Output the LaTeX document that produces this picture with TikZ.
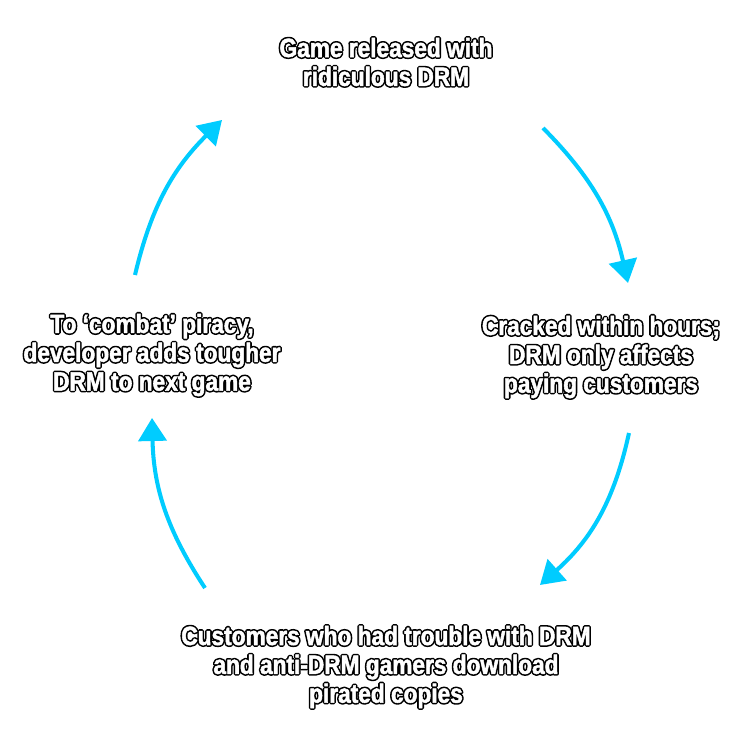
\documentclass[tikz,border=0pt]{standalone}
\usepackage{fontspec}
\usepackage{xcolor}
\usetikzlibrary{arrows.meta}
\newfontfamily\memefill{Liberation Sans Bold}[FakeStretch=0.86,FakeBold=2]
\newfontfamily\memeline{Liberation Sans Bold}[FakeStretch=0.86,FakeBold=14]
\definecolor{cycleblue}{RGB}{0,204,255}
% white letters with a black rim (round corners on the rim)
\newcommand\outl[1]{\rlap{\special{pdf:literal direct 1 j}\memeline\color{black}#1\special{pdf:literal direct 0 j}}{\memefill\color{white}#1}}

\begin{document}
\begin{tikzpicture}[
    meme/.style={align=center, inner sep=0pt, font=\fontsize{15}{16.4}\selectfont},
    cyc/.style={line width=2.3pt, cycleblue, -{Triangle[length=0.46cm,width=0.56cm]}}
  ]
    \fill[white] (0,0) rectangle (15,15);
    \useasboundingbox (0,0) rectangle (15,15);

    % 四つの段階
    \node[meme] (game) at (7.72,13.76) {\outl{Game released with}\\\outl{ridiculous DRM}};
    \node[meme] (crack) at (12.02,7.86) {\outl{Cracked within hours;}\\\outl{DRM only affects}\\\outl{paying customers}};
    \node[meme] (pirate) at (7.72,1.66) {\outl{Customers who had trouble with DRM}\\\outl{and anti-DRM gamers download}\\\outl{pirated copies}};
    \node[meme] (tough) at (3.04,7.90) {\outl{To ‘combat’ piracy,}\\\outl{developer adds tougher}\\\outl{DRM to next game}};

    % 矢印の端
    \coordinate (a1) at (10.86,12.44);
    \coordinate (b1) at (12.56,9.34);
    \coordinate (a2) at (12.58,6.34);
    \coordinate (b2) at (10.80,3.30);
    \coordinate (a3) at (4.10,3.24);
    \coordinate (b3) at (3.04,6.64);
    \coordinate (a4) at (2.70,9.50);
    \coordinate (b4) at (4.44,12.60);

    % 循環
    \draw[cyc] (a1) to[bend left=16] (b1);
    \draw[cyc] (a2) to[bend left=18] (b2);
    \draw[cyc] (a3) to[bend left=16] (b3);
    \draw[cyc] (a4) to[bend left=16] (b4);
\end{tikzpicture}
\end{document}
